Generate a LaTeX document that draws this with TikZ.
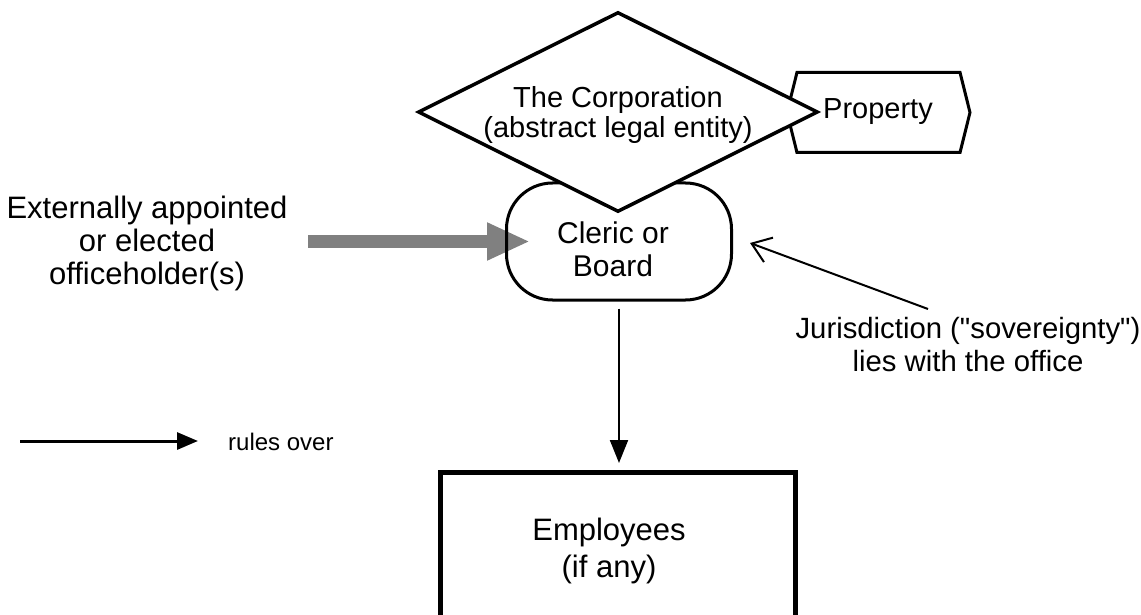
\documentclass[tikz,border=0pt]{standalone}
\usepackage{fontspec}
\setmainfont{Liberation Sans}
\usetikzlibrary{shapes.geometric,shapes.symbols,arrows.meta}
\begin{document}
\begin{tikzpicture}[x=1pt,y=-1pt,
  lbl/.style={font=\fontsize{29}{33}\selectfont, align=center, inner sep=0pt},
  smalllbl/.style={font=\fontsize{24}{27}\selectfont, inner sep=0pt},
  entity/.style={draw=black, line width=3.5pt, line join=miter},
  ruleline/.style={draw=black, line width=2pt, -{Triangle[length=23pt,width=18pt]}},
  officearrow/.style={draw=black!50, line width=13pt, -{Triangle[length=43pt,width=35pt]}},
  noteline/.style={draw=black, line width=2pt, -{Straight Barb[length=18pt,width=26pt,line width=2pt]}}
]
\useasboundingbox (0,0) rectangle (1141,615);

% property held by the corporation
\node[entity, line width=3pt, signal, signal to=east and west, signal pointer angle=152,
      minimum width=183pt, minimum height=80pt, inner sep=0pt, fill=white] (prop) at (878.5,112.5) {};
\node[lbl, anchor=west] (proptext) at (823,112) {Property};

% appointment of the officeholders
\node[lbl, font=\fontsize{31}{33}\selectfont] (ext) at (147,243) {Externally appointed\\or elected\\officeholder(s)};
\coordinate (gstart) at (308,241.5);
\coordinate (gtip) at (530,241.5);
\draw[officearrow] (gstart) -- (gtip);

% the office itself
\node[entity, line width=3pt, rounded corners=46pt, minimum width=225pt, minimum height=117pt,
      inner sep=0pt] (cleric) at (619,241.5) {};
\node[lbl, font=\fontsize{30}{33}\selectfont] (clerictext) at (613,249) {Cleric or\\Board};

% the corporation
\node[entity, diamond, fill=white, minimum width=400pt, minimum height=200pt, inner sep=0pt] (corp) at (618,112) {};
\node[lbl, font=\fontsize{29}{30}\selectfont] (corptext) at (618,115) {The Corporation\\(abstract legal entity)};

% employees
\node[entity, line width=5pt, minimum width=355pt, minimum height=180pt, inner sep=0pt, anchor=north] (emp) at (617.5,470) {};
\node[lbl, font=\fontsize{31}{37}\selectfont] (emptext) at (609,551) {Employees\\(if any)};
\draw[ruleline, shorten <=7pt, shorten >=7pt] (cleric.south) -- (cleric.south |- emp.north);

% jurisdiction note
\node[lbl, font=\fontsize{29.3}{33}\selectfont] (juris) at (968,345) {Jurisdiction (\textquotedbl sovereignty\textquotedbl)\\lies with the office};
\coordinate (jtail) at (928,309);
\coordinate (jtip) at (750,243);
\draw[noteline] (jtail) -- (jtip);

% legend
\node[smalllbl, anchor=west] (rules) at (228,442) {rules over};
\coordinate (lstart) at (20,441);
\draw[draw=black, line width=3pt, -{Triangle[length=21pt,width=17pt]}] (lstart) -- ([xshift=-30pt]rules.west |- lstart);
\end{tikzpicture}
\end{document}
